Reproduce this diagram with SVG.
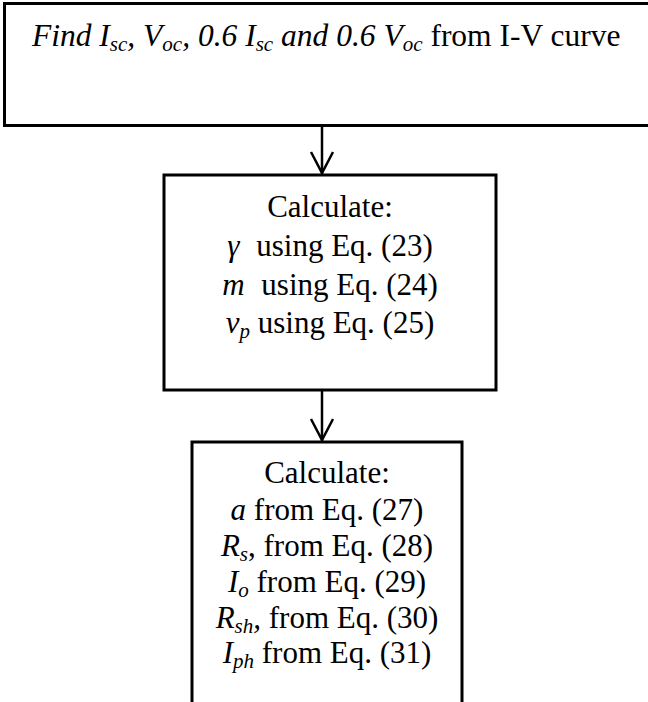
<svg xmlns="http://www.w3.org/2000/svg" width="648" height="702" viewBox="0 0 648 702">
<style>
.box{fill:#fff;stroke:#000;stroke-width:3}
.t{font-family:"Liberation Serif","Times New Roman","DejaVu Serif",serif;font-size:31px;fill:#000}
.top{font-size:31.5px}
.i{font-style:italic}
.s{font-size:21px}
.c{fill:none;stroke:#000;stroke-width:2.5}
</style>
<rect width="648" height="702" fill="#fff"/>
<g id="n1">
<rect class="box" x="4.5" y="3.5" width="700" height="122"/>
<text class="t top" x="32" y="46"><tspan class="i">Find I</tspan><tspan class="i s" dy="5">sc</tspan><tspan class="i" dy="-5">, V</tspan><tspan class="i s" dy="5">oc</tspan><tspan class="i" dy="-5">, 0.6 I</tspan><tspan class="i s" dy="5">sc</tspan><tspan class="i" dy="-5"> and 0.6 V</tspan><tspan class="i s" dy="5">oc</tspan><tspan dy="-5"> from I-V curve</tspan></text>
</g>
<g id="n2">
<rect class="box" x="164" y="175" width="332" height="215"/>
<text class="t" text-anchor="middle" x="330" y="217">Calculate:</text>
<text class="t" text-anchor="middle" x="330" y="256"><tspan class="i">γ</tspan><tspan dx="9"> using Eq. (23)</tspan></text>
<text class="t" text-anchor="middle" x="330" y="295"><tspan class="i">m</tspan><tspan dx="9"> using Eq. (24)</tspan></text>
<text class="t" text-anchor="middle" x="330" y="333"><tspan class="i">v</tspan><tspan class="i s" dy="5">p</tspan><tspan dy="-5"> using Eq. (25)</tspan></text>
</g>
<g id="n3">
<rect class="box" x="192" y="442" width="270" height="270"/>
<text class="t" text-anchor="middle" x="327" y="483">Calculate:</text>
<text class="t" text-anchor="middle" x="327" y="520"><tspan class="i">a</tspan> from Eq. (27)</text>
<text class="t" text-anchor="middle" x="327" y="556"><tspan class="i">R</tspan><tspan class="i s" dy="5">s</tspan><tspan dy="-5">, from Eq. (28)</tspan></text>
<text class="t" text-anchor="middle" x="327" y="592"><tspan class="i">I</tspan><tspan class="i s" dy="5">o</tspan><tspan dy="-5"> from Eq. (29)</tspan></text>
<text class="t" text-anchor="middle" x="327" y="628"><tspan class="i">R</tspan><tspan class="i s" dy="5">sh</tspan><tspan class="i" dy="-5">,</tspan><tspan> from Eq. (30)</tspan></text>
<text class="t" text-anchor="middle" x="327" y="663"><tspan class="i">I</tspan><tspan class="i s" dy="5">ph</tspan><tspan dy="-5"> from Eq. (31)</tspan></text>
</g>
<g id="connectors">
<line class="c" x1="322" y1="126" x2="322" y2="174"/>
<polyline class="c" points="311,152 322,173 333,152"/>
<line class="c" x1="322" y1="390" x2="322" y2="441"/>
<polyline class="c" points="311,419 322,440 333,419"/>
</g>
</svg>
